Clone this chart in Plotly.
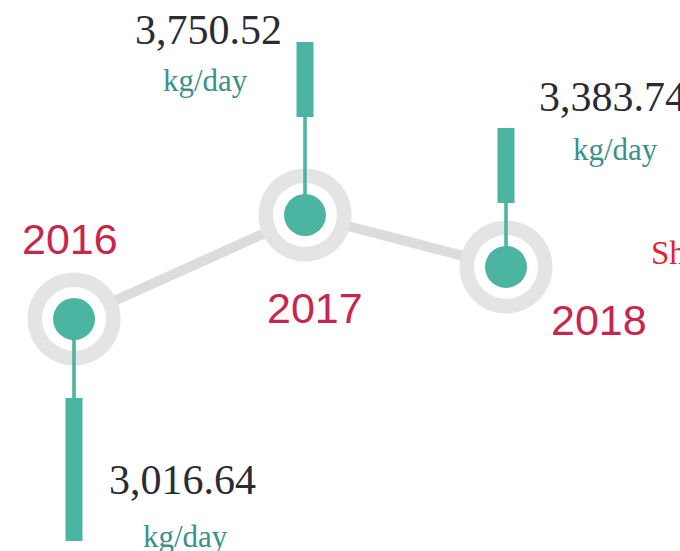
import plotly.graph_objects as go

# ---- data ----
years = ["2016", "2017", "2018"]
values = [3016.64, 3750.52, 3383.74]
unit = "kg/day"
side_note = "Sh"

# ---- layout constants (pixel-based infographic placement) ----
NODE_X = [74, 305, 506]          # horizontal placement of the nodes (px)
TEAL = "#4bb5a2"
RING = "#e4e4e4"
LINK = "#dcdcdc"
YEAR_C = "#c8264c"
NUM_C = "#2b2b36"
UNIT_C = "#3a918a"

# stem geometry per node (pixels relative to node centre, +up)
stem_thin = [(0, -79), (0, 98), (0, 64)]
stem_bar = [(-79, -222), (98, 173), (64, 139)]

# label offsets (xshift, yshift) relative to node
year_off = [(-4, 80), (10, -93), (93, -53)]
num_off = [(108, -161), (-97, 185), (31, 170)]
num_anchor = ["center", "center", "left"]
unit_off = [(111, -218), (-100, 135), (109, 117)]

fig = go.Figure()
fig.add_trace(go.Scatter(x=NODE_X, y=values, mode="lines",
                         line=dict(color=LINK, width=10), hoverinfo="skip"))
fig.add_trace(go.Scatter(x=NODE_X, y=values, mode="markers",
                         marker=dict(size=93, color=RING, line=dict(width=0)), hoverinfo="skip"))
fig.add_trace(go.Scatter(x=NODE_X, y=values, mode="markers",
                         marker=dict(size=64, color="white", line=dict(width=0)), hoverinfo="skip"))
fig.add_trace(go.Scatter(x=NODE_X, y=values, mode="markers",
                         marker=dict(size=42, color=TEAL, line=dict(width=0)), hoverinfo="skip"))

shapes = []
for i, (x, v) in enumerate(zip(NODE_X, values)):
    t0, t1 = stem_thin[i]
    shapes.append(dict(type="rect", xref="x", yref="y", xsizemode="pixel", ysizemode="pixel",
                       xanchor=x, yanchor=v, x0=-1.8, x1=1.8, y0=t0, y1=t1,
                       fillcolor=TEAL, line=dict(width=0), layer="above"))
    b0, b1 = stem_bar[i]
    shapes.append(dict(type="rect", xref="x", yref="y", xsizemode="pixel", ysizemode="pixel",
                       xanchor=x, yanchor=v, x0=-8.5, x1=8.5, y0=b0, y1=b1,
                       fillcolor=TEAL, line=dict(width=0), layer="above"))

annotations = []
for i, (x, v) in enumerate(zip(NODE_X, values)):
    annotations.append(dict(x=x, y=v, xref="x", yref="y", text=years[i], showarrow=False,
                            xshift=year_off[i][0], yshift=year_off[i][1],
                            font=dict(family="Liberation Sans, Arial", size=43, color=YEAR_C)))
    annotations.append(dict(x=x, y=v, xref="x", yref="y", text=f"{v:,.2f}", showarrow=False,
                            xanchor=num_anchor[i],
                            xshift=num_off[i][0], yshift=num_off[i][1],
                            font=dict(family="Liberation Serif, Times New Roman", size=42, color=NUM_C)))
    annotations.append(dict(x=x, y=v, xref="x", yref="y", text=unit, showarrow=False,
                            xshift=unit_off[i][0], yshift=unit_off[i][1],
                            font=dict(family="Liberation Serif, Times New Roman", size=31, color=UNIT_C)))
annotations.append(dict(x=NODE_X[2], y=values[2], xref="x", yref="y", text=side_note, showarrow=False,
                        xanchor="left", xshift=143, yshift=14,
                        font=dict(family="Liberation Serif, Times New Roman", size=33, color="#e3242b")))

fig.update_layout(
    width=680, height=551,
    margin=dict(l=0, r=0, t=0, b=0),
    paper_bgcolor="white", plot_bgcolor="white",
    showlegend=False,
    xaxis=dict(range=[0, 680], visible=False, fixedrange=True),
    yaxis=dict(range=[1379.4, 5267.7], visible=False, fixedrange=True),
    shapes=shapes, annotations=annotations,
)
# remove the default page margin so the figure fills the window exactly
fig.write_html("out.html",
               config={"displayModeBar": False},
               post_script="document.body.style.margin='0';document.body.style.overflow='hidden';")
